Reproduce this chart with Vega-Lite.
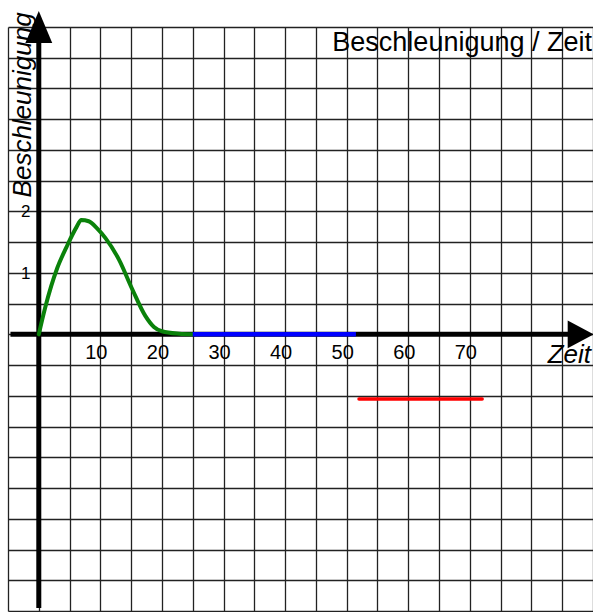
{
  "$schema": "https://vega.github.io/schema/vega-lite/v6.json",
  "width": 585,
  "height": 584,
  "autosize": {"type": "none"},
  "padding": {"left": 8, "top": 27, "right": 0, "bottom": 1},
  "background": "white",
  "config": {"view": {"stroke": null}},
  "datasets": {
    "green": [
      {"x": 0, "y": 0}, {"x": 1, "y": 0.42}, {"x": 2, "y": 0.78}, {"x": 3, "y": 1.08},
      {"x": 4.5, "y": 1.42}, {"x": 6.1, "y": 1.74}, {"x": 6.9, "y": 1.86}, {"x": 8.1, "y": 1.84},
      {"x": 9.5, "y": 1.72}, {"x": 10.8, "y": 1.57}, {"x": 13, "y": 1.22}, {"x": 15.2, "y": 0.73},
      {"x": 17.3, "y": 0.3}, {"x": 18.7, "y": 0.12}, {"x": 20, "y": 0.05}, {"x": 22.8, "y": 0.01},
      {"x": 25, "y": 0}
    ],
    "blue": [{"x": 25, "y": 0}, {"x": 51.5, "y": 0}],
    "red": [{"x": 52, "y": -1.05}, {"x": 72, "y": -1.05}],
    "xaxis": [{"x": -4.6, "x2": 87, "y": 0}],
    "yaxis": [{"x": 0, "y": -4.45, "y2": 4.9}],
    "arrowUp": [{"x": 0, "y": 5}],
    "arrowRight": [{"x": 88, "y": 0}],
    "xlabels": [
      {"x": 10, "y": 0, "label": "10"}, {"x": 20, "y": 0, "label": "20"},
      {"x": 30, "y": 0, "label": "30"}, {"x": 40, "y": 0, "label": "40"},
      {"x": 50, "y": 0, "label": "50"}, {"x": 60, "y": 0, "label": "60"},
      {"x": 70, "y": 0, "label": "70"}
    ],
    "ylabels": [{"x": 0, "y": 1, "label": "1"}, {"x": 0, "y": 2, "label": "2"}],
    "title": [{"x": 90, "y": 5, "label": "Beschleunigung / Zeit"}],
    "xtitle": [{"x": 90, "y": 0, "label": "Zeit"}],
    "ytitle": [{"x": 0, "y": 2, "label": "Beschleunigung"}]
  },
  "encoding": {
    "x": {
      "field": "x", "type": "quantitative",
      "scale": {"domain": [-5, 90], "nice": false, "zero": false},
      "axis": {
        "values": [-5, 0, 5, 10, 15, 20, 25, 30, 35, 40, 45, 50, 55, 60, 65, 70, 75, 80, 85, 90],
        "grid": true, "gridColor": "#222", "gridOpacity": 1, "gridWidth": 1.3,
        "labels": false, "ticks": false, "domain": false, "title": null
      }
    },
    "y": {
      "field": "y", "type": "quantitative",
      "scale": {"domain": [-4.5, 5], "nice": false, "zero": false},
      "axis": {
        "values": [-4.5, -4, -3.5, -3, -2.5, -2, -1.5, -1, -0.5, 0, 0.5, 1, 1.5, 2, 2.5, 3, 3.5, 4, 4.5, 5],
        "grid": true, "gridColor": "#222", "gridOpacity": 1, "gridWidth": 1.3,
        "labels": false, "ticks": false, "domain": false, "title": null
      }
    }
  },
  "layer": [
    {
      "data": {"name": "xaxis"},
      "mark": {"type": "rule", "color": "black", "strokeWidth": 5},
      "encoding": {"x2": {"field": "x2"}}
    },
    {
      "data": {"name": "yaxis"},
      "mark": {"type": "rule", "color": "black", "strokeWidth": 5},
      "encoding": {"y2": {"field": "y2"}}
    },
    {
      "data": {"name": "arrowUp"},
      "mark": {"type": "point", "shape": "M0,-1L0.84,1L-0.84,1Z", "size": 1024, "filled": true, "color": "black", "opacity": 1, "strokeWidth": 0}
    },
    {
      "data": {"name": "arrowRight"},
      "mark": {"type": "point", "shape": "M1,0L-1,-1.07L-1,1.07Z", "size": 676, "filled": true, "color": "black", "opacity": 1, "strokeWidth": 0}
    },
    {
      "data": {"name": "green"},
      "mark": {"type": "line", "interpolate": "monotone", "color": "#0a820a", "strokeWidth": 4, "strokeCap": "round"}
    },
    {
      "data": {"name": "blue"},
      "mark": {"type": "line", "color": "#0000ff", "strokeWidth": 4.5}
    },
    {
      "data": {"name": "red"},
      "mark": {"type": "line", "color": "#ff0000", "strokeWidth": 3.5, "strokeCap": "round"}
    },
    {
      "data": {"name": "xlabels"},
      "mark": {"type": "text", "font": "Liberation Sans", "fontSize": 20, "align": "center", "baseline": "middle", "dx": -4, "dy": 19, "color": "black"},
      "encoding": {"text": {"field": "label"}}
    },
    {
      "data": {"name": "ylabels"},
      "mark": {"type": "text", "font": "Liberation Sans", "fontSize": 17, "align": "center", "baseline": "middle", "dx": -13, "dy": 1, "color": "black"},
      "encoding": {"text": {"field": "label"}}
    },
    {
      "data": {"name": "title"},
      "mark": {"type": "text", "font": "Liberation Sans", "fontSize": 27, "align": "right", "baseline": "alphabetic", "dx": -1, "dy": 24, "color": "black"},
      "encoding": {"text": {"field": "label"}}
    },
    {
      "data": {"name": "xtitle"},
      "mark": {"type": "text", "font": "Liberation Sans", "fontSize": 26, "fontStyle": "italic", "align": "right", "baseline": "alphabetic", "dx": -2, "dy": 29, "color": "black"},
      "encoding": {"text": {"field": "label"}}
    },
    {
      "data": {"name": "ytitle"},
      "mark": {"type": "text", "font": "Liberation Sans", "fontSize": 26, "fontStyle": "italic", "angle": 270, "align": "left", "baseline": "alphabetic", "dx": 14, "dy": -8, "color": "black"},
      "encoding": {"text": {"field": "label"}}
    }
  ]
}
